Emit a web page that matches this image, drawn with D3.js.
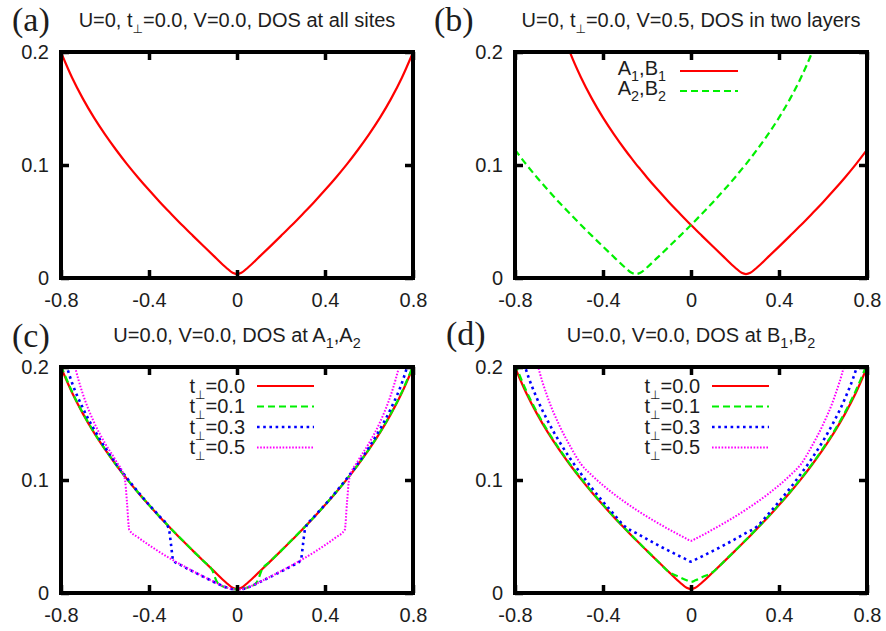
<!DOCTYPE html>
<html>
<head>
<meta charset="utf-8">
<script src="https://cdn.jsdelivr.net/npm/d3@7"></script>
<style>
  html, body { margin: 0; padding: 0; background: #fff; }
  svg { display: block; }
</style>
</head>
<body>
<svg id="fig" width="886" height="631"></svg>
<script>
// ---------------------------------------------------------------
// Data: density of states (DOS) versus energy
// ---------------------------------------------------------------

// Tick positions and labels shared by all four panels
const xTickValues = [-0.8, -0.4, 0, 0.4, 0.8];
const xTickLabels = ["-0.8", "-0.4", "0", "0.4", "0.8"];
const yTickValues = [0, 0.1, 0.2];
const yTickLabels = ["0", "0.1", "0.2"];

// Common energy grid
const energyGrid = [-0.8,-0.75,-0.7,-0.65,-0.6,-0.55,-0.5,-0.45,-0.4,-0.35,-0.3,-0.25,-0.2,-0.15,-0.1,-0.05,-0.02,
  0,0.02,0.05,0.1,0.15,0.2,0.25,0.3,0.35,0.4,0.45,0.5,0.55,0.6,0.65,0.7,0.75,0.8];

// (a) single layer, all sites (also the t_perp = 0 curve of (c) and (d))
const dosAllSites = [0.1996,0.1774,0.1585,0.1419,0.1271,0.1135,0.1008,0.0890,0.0778,0.0671,0.0569,0.0469,0.0373,0.0278,0.0185,0.0093,0.0046,
  0.0035,0.0046,0.0093,0.0185,0.0278,0.0373,0.0469,0.0569,0.0671,0.0778,0.0890,0.1008,0.1135,0.1271,0.1419,0.1585,0.1774,0.1996];

// (b) two layers with a bias V = 0.5
const energyBias = [-0.8,-0.75,-0.7,-0.65,-0.6,-0.55,-0.5,-0.45,-0.4,-0.35,-0.3,-0.27,-0.25,-0.23,-0.2,-0.15,-0.1,-0.05,
  0,0.05,0.1,0.15,0.2,0.23,0.25,0.27,0.3,0.35,0.4,0.45,0.5,0.55,0.6,0.65,0.7,0.75,0.8];
const dosLayer1 = [null,null,0.3237,0.2640,0.2271,0.1996,0.1774,0.1585,0.1419,0.1271,0.1135,0.1058,0.1008,0.0961,
  0.0890,0.0778,0.0671,0.0569,0.0469,0.0373,0.0278,0.0185,0.0093,0.0046,0.0035,0.0046,
  0.0093,0.0185,0.0278,0.0373,0.0469,0.0569,0.0671,0.0778,0.0890,0.1008,0.1135];
const dosLayer2 = [0.1135,0.1008,0.0890,0.0778,0.0671,0.0569,0.0469,0.0373,0.0278,0.0185,0.0093,0.0046,0.0035,0.0046,
  0.0093,0.0185,0.0278,0.0373,0.0469,0.0569,0.0671,0.0778,0.0890,0.0961,0.1008,0.1058,
  0.1135,0.1271,0.1419,0.1585,0.1774,0.1996,0.2271,0.2640,0.3237,null,null];

// (c) DOS at A1,A2 for several interlayer hoppings
const energyA01 = [-0.8,-0.75,-0.7,-0.65,-0.6,-0.55,-0.5,-0.45,-0.4,-0.35,-0.3,-0.25,-0.2,-0.15,-0.11,-0.1,-0.09,-0.08,-0.05,-0.02,
  0,0.02,0.05,0.08,0.09,0.1,0.11,0.15,0.2,0.25,0.3,0.35,0.4,0.45,0.5,0.55,0.6,0.65,0.7,0.75,0.8];
const dosA01 = [0.2011,0.1782,0.1590,0.1423,0.1273,0.1136,0.1009,0.0891,0.0779,0.0672,0.0569,0.0471,0.0373,0.0278,
  0.0192,0.0138,0.0095,0.0075,0.0050,0.0034,0.0030,0.0034,0.0050,0.0075,0.0095,0.0138,0.0192,
  0.0278,0.0373,0.0471,0.0569,0.0672,0.0779,0.0891,0.1009,0.1136,0.1273,0.1423,0.1590,0.1782,0.2011];

const energyA03 = [-0.8,-0.75,-0.7,-0.65,-0.6,-0.55,-0.5,-0.45,-0.4,-0.35,-0.31,-0.3,-0.29,-0.25,-0.2,-0.15,-0.1,-0.05,-0.02,
  0,0.02,0.05,0.1,0.15,0.2,0.25,0.29,0.3,0.31,0.35,0.4,0.45,0.5,0.55,0.6,0.65,0.7,0.75,0.8];
const dosA03 = [0.2182,0.1861,0.1634,0.1449,0.1289,0.1146,0.1016,0.0895,0.0781,0.0673,0.0570,0.0430,0.0290,
  0.0241,0.0190,0.0141,0.0093,0.0050,0.0033,0.0030,0.0033,0.0050,0.0093,0.0141,0.0190,0.0241,
  0.0290,0.0430,0.0570,0.0673,0.0781,0.0895,0.1016,0.1146,0.1289,0.1449,0.1634,0.1861,0.2182];

const energyA05 = [-0.76,-0.74,-0.72,-0.7,-0.65,-0.6,-0.55,-0.51,-0.5,-0.49,-0.45,-0.4,-0.35,-0.3,-0.25,-0.2,-0.15,-0.1,-0.05,-0.02,
  0,0.02,0.05,0.1,0.15,0.2,0.25,0.3,0.35,0.4,0.45,0.49,0.5,0.51,0.55,0.6,0.65,0.7,0.72,0.74,0.76];
const dosA05 = [0.2278,0.2038,0.1883,0.1757,0.1511,0.1325,0.1168,0.1010,0.0800,0.0560,0.0493,0.0424,0.0360,0.0301,
  0.0246,0.0193,0.0143,0.0094,0.0050,0.0033,0.0030,0.0033,0.0050,0.0094,0.0143,0.0193,0.0246,0.0301,
  0.0360,0.0424,0.0493,0.0560,0.0800,0.1010,0.1168,0.1325,0.1511,0.1757,0.1883,0.2038,0.2278];

// (d) DOS at B1,B2 on the common grid
const dosB01 = [0.2027,0.1794,0.1599,0.1430,0.1279,0.1141,0.1014,0.0894,0.0782,0.0674,0.0571,0.0471,0.0374,0.0279,0.0186,0.0139,0.0112,
  0.0098,0.0112,0.0139,0.0186,0.0279,0.0374,0.0471,0.0571,0.0674,0.0782,0.0894,0.1014,0.1141,0.1279,0.1430,0.1599,0.1794,0.2027];
const dosB03 = [0.2352,0.1977,0.1721,0.1518,0.1345,0.1192,0.1055,0.0927,0.0808,0.0696,0.0588,0.0531,0.0476,0.0423,0.0373,0.0324,0.0296,
  0.0278,0.0296,0.0324,0.0373,0.0423,0.0476,0.0531,0.0588,0.0696,0.0808,0.0927,0.1055,0.1192,0.1345,0.1518,0.1721,0.1977,0.2352];
const dosB05 = [0.2900,0.2580,0.2047,0.1723,0.1490,0.1302,0.1141,0.1040,0.0953,0.0875,0.0804,0.0738,0.0676,0.0618,0.0563,0.0510,0.0480,
  0.0462,0.0480,0.0510,0.0563,0.0618,0.0676,0.0738,0.0804,0.0875,0.0953,0.1040,0.1141,0.1302,0.1490,0.1723,0.2047,0.2580,0.2900];

// Text ("_x" marks a one-character subscript)
const panelTags = ["(a)", "(b)", "(c)", "(d)"];
const panelTitles = [
  "U=0, t_⊥=0.0, V=0.0, DOS at all sites",
  "U=0, t_⊥=0.0, V=0.5, DOS in two layers",
  "U=0.0, V=0.0, DOS at A_1,A_2",
  "U=0.0, V=0.0, DOS at B_1,B_2"
];
const layerLabels = ["A_1,B_1", "A_2,B_2"];
const hoppingLabels = ["t_⊥=0.0", "t_⊥=0.1", "t_⊥=0.3", "t_⊥=0.5"];

// ---------------------------------------------------------------
// Styling and layout
// ---------------------------------------------------------------
const SANS = "'Liberation Sans', Arial, Helvetica, sans-serif";
const SERIF = "'Liberation Serif', 'Times New Roman', Times, serif";
const TEXT_COLOR = "#1d1d1d";
const FS = 20;

const styles = [
  { color: "#ff0000", dash: null,      width: 2.2 },
  { color: "#00f000", dash: "7,4",     width: 2.2 },
  { color: "#0000ff", dash: "2.6,3.6", width: 2.6 },
  { color: "#ff00ff", dash: "1.6,1.6", width: 2.0 }
];

const panels = [
  { key: "a", left: 61,  right: 413, top: 52,  bottom: 278, tag: [12, 31],  titleX: 237, titleY: 27,
    series: [{ e: energyGrid, v: dosAllSites, s: 0 }], legend: null },
  { key: "b", left: 515, right: 867, top: 52,  bottom: 278, tag: [434, 31], titleX: 691, titleY: 27,
    series: [{ e: energyBias, v: dosLayer1, s: 0 }, { e: energyBias, v: dosLayer2, s: 1 }],
    legend: { labels: layerLabels, textEnd: 666, x0: 680, x1: 738, rows: [71, 91], baseShift: 3.5 } },
  { key: "c", left: 61,  right: 413, top: 367, bottom: 593, tag: [12, 347], titleX: 237, titleY: 342,
    series: [{ e: energyGrid, v: dosAllSites, s: 0 }, { e: energyA01, v: dosA01, s: 1 },
             { e: energyA03, v: dosA03, s: 2 }, { e: energyA05, v: dosA05, s: 3 }],
    legend: { labels: hoppingLabels, textEnd: 245, x0: 257, x1: 314, rows: [386, 406.5, 427, 447.5], baseShift: 6.8 } },
  { key: "d", left: 515, right: 867, top: 367, bottom: 593, tag: [446, 345], titleX: 691, titleY: 342,
    series: [{ e: energyGrid, v: dosAllSites, s: 0 }, { e: energyGrid, v: dosB01, s: 1 },
             { e: energyGrid, v: dosB03, s: 2 }, { e: energyGrid, v: dosB05, s: 3 }],
    legend: { labels: hoppingLabels, textEnd: 700, x0: 712, x1: 769, rows: [386, 406.5, 427, 447.5], baseShift: 6.8 } }
];

// Writes a string into a <text>, lowering characters marked with "_"
function richText(textSel, str, fs) {
  const parts = [];
  let buf = "";
  for (let i = 0; i < str.length; i++) {
    if (str[i] === "_" && i + 1 < str.length) {
      if (buf) parts.push({ t: buf, sub: false });
      buf = "";
      parts.push({ t: str[i + 1], sub: true });
      i++;
    } else {
      buf += str[i];
    }
  }
  if (buf) parts.push({ t: buf, sub: false });
  const drop = fs * 0.3;
  let lowered = false;
  parts.forEach(p => {
    const ts = textSel.append("tspan").text(p.t);
    if (p.sub) {
      const scale = p.t === "⊥" ? 0.6 : 0.72;
      ts.attr("font-size", fs * scale);
      if (p.t === "⊥") ts.attr("font-family", "'DejaVu Sans', sans-serif");
      if (!lowered) { ts.attr("dy", drop); lowered = true; }
    } else if (lowered) {
      ts.attr("dy", -drop);
      lowered = false;
    }
  });
}

// ---------------------------------------------------------------
// Drawing
// ---------------------------------------------------------------
const svg = d3.select("#fig");
svg.append("rect").attr("width", 886).attr("height", 631).attr("fill", "#fff");
const defs = svg.append("defs");

panels.forEach((p, pi) => {
  const x = d3.scaleLinear().domain([-0.8, 0.8]).range([p.left, p.right]);
  const y = d3.scaleLinear().domain([0, 0.2]).range([p.bottom, p.top]);
  const g = svg.append("g").attr("class", "panel-" + p.key);

  // Curves, clipped to the plotting area
  const clipId = "clip-" + p.key;
  defs.append("clipPath").attr("id", clipId)
    .append("rect").attr("x", p.left).attr("y", p.top)
    .attr("width", p.right - p.left).attr("height", p.bottom - p.top);

  const line = d3.line()
    .defined(d => d[1] !== null)
    .x(d => x(d[0]))
    .y(d => y(d[1]))
    .curve(d3.curveMonotoneX);

  const curves = g.append("g").attr("clip-path", `url(#${clipId})`);
  p.series.forEach(sr => {
    const st = styles[sr.s];
    const pts = sr.e.map((e, i) => [e, sr.v[i]]);
    curves.append("path")
      .attr("d", line(pts))
      .attr("fill", "none")
      .attr("stroke", st.color)
      .attr("stroke-width", st.width)
      .attr("stroke-dasharray", st.dash)
      .attr("stroke-linejoin", "round");
  });

  // Axes: labelled bottom/left, mirrored inward ticks on top/right
  const tickLen = -8;
  const styleAxis = sel => {
    sel.select(".domain").remove();
    sel.selectAll(".tick line").attr("stroke", "#000").attr("stroke-width", 3.5);
    sel.selectAll(".tick text").attr("fill", TEXT_COLOR)
      .attr("font-family", SANS).attr("font-size", FS);
  };
  g.append("g").attr("transform", `translate(0,${p.bottom})`)
    .call(d3.axisBottom(x).tickValues(xTickValues).tickFormat((d, i) => xTickLabels[i])
      .tickSizeInner(tickLen).tickSizeOuter(0).tickPadding(15))
    .call(styleAxis);
  g.append("g").attr("transform", `translate(0,${p.top})`)
    .call(d3.axisTop(x).tickValues(xTickValues).tickFormat("")
      .tickSizeInner(tickLen).tickSizeOuter(0))
    .call(styleAxis);
  g.append("g").attr("transform", `translate(${p.left},0)`)
    .call(d3.axisLeft(y).tickValues(yTickValues).tickFormat((d, i) => yTickLabels[i])
      .tickSizeInner(tickLen).tickSizeOuter(0).tickPadding(12))
    .call(styleAxis);
  g.append("g").attr("transform", `translate(${p.right},0)`)
    .call(d3.axisRight(y).tickValues(yTickValues).tickFormat("")
      .tickSizeInner(tickLen).tickSizeOuter(0))
    .call(styleAxis);

  // Frame
  g.append("rect")
    .attr("x", p.left).attr("y", p.top)
    .attr("width", p.right - p.left).attr("height", p.bottom - p.top)
    .attr("fill", "none").attr("stroke", "#000").attr("stroke-width", 4);

  // Panel tag and title
  g.append("text")
    .attr("x", p.tag[0]).attr("y", p.tag[1])
    .attr("font-family", SERIF).attr("font-size", 34).attr("fill", TEXT_COLOR)
    .text(panelTags[pi]);
  const title = g.append("text")
    .attr("x", p.titleX).attr("y", p.titleY)
    .attr("text-anchor", "middle")
    .attr("font-family", SANS).attr("font-size", FS).attr("fill", TEXT_COLOR);
  richText(title, panelTitles[pi], FS);

  // Legend
  if (p.legend) {
    const lg = p.legend;
    lg.labels.forEach((lab, i) => {
      const st = styles[i];
      const yy = lg.rows[i];
      const t = g.append("text")
        .attr("x", lg.textEnd).attr("y", yy + lg.baseShift)
        .attr("text-anchor", "end")
        .attr("font-family", SANS).attr("font-size", FS).attr("fill", TEXT_COLOR);
      richText(t, lab, FS);
      g.append("line")
        .attr("x1", lg.x0).attr("x2", lg.x1).attr("y1", yy).attr("y2", yy)
        .attr("stroke", st.color).attr("stroke-width", st.width)
        .attr("stroke-dasharray", st.dash);
    });
  }
});
</script>
</body>
</html>
